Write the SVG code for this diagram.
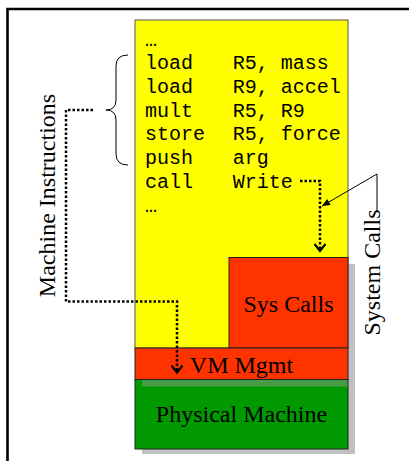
<svg xmlns="http://www.w3.org/2000/svg" width="409" height="461" viewBox="0 0 409 461">
<style>
.mono{font-family:"Liberation Mono","Courier New",monospace;font-size:20px;fill:#000}
.serif{font-family:"Liberation Serif","Times New Roman",serif;font-size:24px;fill:#000}
.dot{fill:none;stroke:#000;stroke-width:2.5;stroke-dasharray:2.5 2}
.shadow{fill:#c0c0c0}
.box{stroke:#222;stroke-width:1}
</style>
<defs>
<marker id="vhead" markerUnits="userSpaceOnUse" viewBox="-8 -7 10 14" markerWidth="10" markerHeight="14" refX="0" refY="0" orient="auto">
<polyline points="-7,-5.5 0,0 -7,5.5" fill="none" stroke="#000" stroke-width="2.2" stroke-dasharray="none"/>
</marker>
<marker id="solid" markerUnits="userSpaceOnUse" viewBox="-9 -4 10 8" markerWidth="10" markerHeight="8" refX="0" refY="0" orient="auto">
<polygon points="-8,-3.5 0,0 -8,3.5" fill="#000"/>
</marker>
</defs>
<rect width="409" height="461" fill="#fff"/>
<path d="M7.5,470 V9 H420" fill="none" stroke="#000" stroke-width="2.6"/>

<g id="shadows">
<rect class="shadow" x="236" y="264" width="119" height="100"/>
<rect class="shadow" x="142" y="355" width="213" height="99"/>
</g>

<g id="program">
<rect x="135" y="20" width="213" height="328" fill="#ffff00" stroke="#555" stroke-width="1"/>
<text class="mono" x="145" y="46">…</text>
<text class="mono" x="145" y="69.3">load</text><text class="mono" x="232.7" y="69.3">R5, mass</text>
<text class="mono" x="145" y="93">load</text><text class="mono" x="232.7" y="93">R9, accel</text>
<text class="mono" x="145" y="116.7">mult</text><text class="mono" x="232.7" y="116.7">R5, R9</text>
<text class="mono" x="145" y="140.3">store</text><text class="mono" x="232.7" y="140.3">R5, force</text>
<text class="mono" x="145" y="164">push</text><text class="mono" x="232.7" y="164">arg</text>
<text class="mono" x="145" y="187.7">call</text><text class="mono" x="232.7" y="187.7">Write</text>
<text class="mono" x="145" y="211.5">…</text>
</g>

<g id="syscalls">
<rect class="box" x="229" y="257.5" width="119" height="90.5" fill="#ff3300"/>
<text class="serif" x="288.5" y="311.7" text-anchor="middle">Sys Calls</text>
</g>

<g id="vmmgmt">
<rect class="box" x="135" y="348" width="213" height="31.5" fill="#ff3300"/>
<text class="serif" x="241.5" y="372.7" text-anchor="middle">VM Mgmt</text>
</g>

<g id="physical">
<rect class="box" x="135" y="379.5" width="213" height="69.5" fill="#009900"/>
<rect x="142" y="380" width="205.5" height="6.5" fill="#a0a0a0" opacity="0.45"/>
<text class="serif" x="241.5" y="421.7" text-anchor="middle">Physical Machine</text>
</g>

<g id="labels">
<text class="serif" transform="translate(55,195.5) rotate(-90)" text-anchor="middle">Machine Instructions</text>
<text class="serif" transform="translate(380,272.5) rotate(-90)" text-anchor="middle">System Calls</text>
<path d="M128,55 Q116,55 116,66 V100 Q116,110 106,110 Q116,110 116,120 V154 Q116,165 128,165" fill="none" stroke="#000" stroke-width="1"/>
</g>

<g id="connectors">
<path class="dot" d="M93,110 H66 V301.5 H177 V372.5" marker-end="url(#vhead)"/>
<path class="dot" d="M300,181 H320 V251" marker-end="url(#vhead)"/>
<polyline points="377,212 377,174 322,206" fill="none" stroke="#000" stroke-width="1" marker-end="url(#solid)"/>
</g>
</svg>
